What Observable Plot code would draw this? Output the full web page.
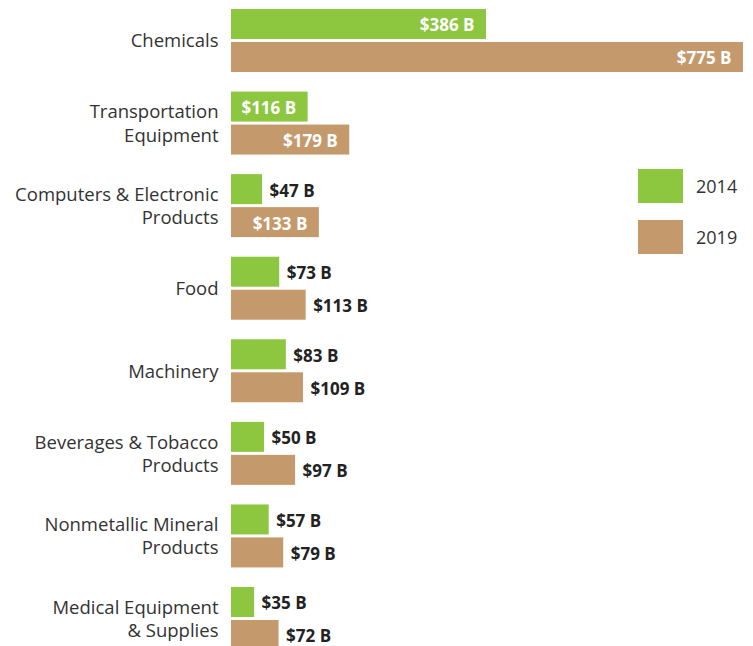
<!DOCTYPE html>
<html>
<head>
<meta charset="utf-8">
<script src="https://cdn.jsdelivr.net/npm/d3@7"></script>
<script src="https://cdn.jsdelivr.net/npm/@observablehq/plot@0.6"></script>
<style>
  html, body { margin: 0; padding: 0; background: #fff; overflow: hidden; }
  #wrap { position: relative; width: 753px; height: 646px; overflow: hidden; font-family: "Open Sans", sans-serif; }
  .legend { position: absolute; left: 638px; top: 169px; }
  .legend .item { display: flex; align-items: center; height: 34px; margin-bottom: 17px; }
  .legend .sw { width: 45px; height: 34px; }
  .legend .lb { margin-left: 13px; font-size: 18px; color: #333; }
</style>
</head>
<body>
<div id="wrap"></div>
<script>
const categories = [
  "Chemicals",
  "Transportation Equipment",
  "Computers & Electronic Products",
  "Food",
  "Machinery",
  "Beverages & Tobacco Products",
  "Nonmetallic Mineral Products",
  "Medical Equipment & Supplies"
];
const categoryLabels = [
  "Chemicals",
  "Transportation\nEquipment",
  "Computers & Electronic\nProducts",
  "Food",
  "Machinery",
  "Beverages & Tobacco\nProducts",
  "Nonmetallic Mineral\nProducts",
  "Medical Equipment\n& Supplies"
];
const years = ["2014", "2019"];
const values2014 = [386, 116, 47, 73, 83, 50, 57, 35];
const values2019 = [775, 179, 133, 113, 109, 97, 79, 72];
const colors = ["#8dc63f", "#c4996b"];

const data = [];
categories.forEach((c, i) => {
  data.push({category: c, year: years[0], value: values2014[i]});
  data.push({category: c, year: years[1], value: values2019[i]});
});
const labelMap = new Map(categories.map((c, i) => [c, categoryLabels[i]]));
const fmt = d => `$${d.value} B`;
const inside = d => d.value >= 116;

const chart = Plot.plot({
  width: 753,
  height: 646,
  marginLeft: 231,
  marginRight: 10,
  marginTop: 9,
  marginBottom: -4,
  style: {fontFamily: "'Open Sans', sans-serif", background: "#fff", overflow: "visible"},
  x: {domain: [0, 775], axis: null},
  fy: {domain: categories, paddingInner: 0.2373, paddingOuter: 0, round: false, label: null, axis: null},
  y: {domain: years, paddingInner: 0.0909, paddingOuter: 0, round: false, axis: null},
  color: {domain: years, range: colors},
  marks: [
    Plot.axisFy({
      anchor: "left",
      tickSize: 0,
      tickPadding: 13,
      fontSize: 18.5,
      lineHeight: 1.25,
      dy: -1,
      fill: "#333",
      label: null,
      tickFormat: c => labelMap.get(c)
    }),
    Plot.barX(data, {fy: "category", y: "year", x: "value", fill: "year"}),
    Plot.text(data.filter(inside), {
      fy: "category", y: "year", x: "value", text: fmt,
      textAnchor: "end", dx: -12, dy: 1.5, fill: "white",
      fontWeight: "bold", fontSize: 17
    }),
    Plot.text(data.filter(d => !inside(d)), {
      fy: "category", y: "year", x: "value", text: fmt,
      textAnchor: "start", dx: 7, dy: 1.5, fill: "#222",
      fontWeight: "bold", fontSize: 17
    })
  ]
});

const wrap = document.getElementById("wrap");
wrap.appendChild(chart);

const legend = document.createElement("div");
legend.className = "legend";
years.forEach((y, i) => {
  const item = document.createElement("div");
  item.className = "item";
  const sw = document.createElement("div");
  sw.className = "sw";
  sw.style.background = colors[i];
  const lb = document.createElement("span");
  lb.className = "lb";
  lb.textContent = y;
  item.appendChild(sw);
  item.appendChild(lb);
  legend.appendChild(item);
});
wrap.appendChild(legend);
</script>
</body>
</html>
